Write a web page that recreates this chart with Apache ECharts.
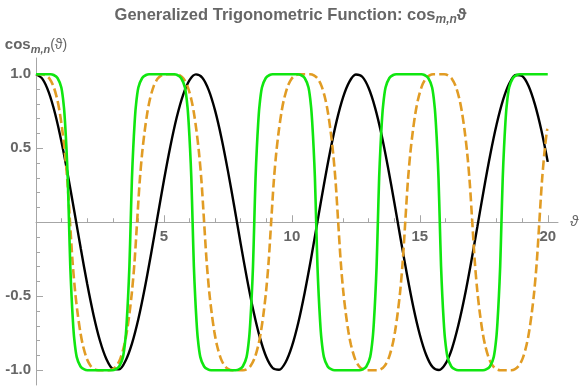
<!DOCTYPE html>
<html>

<head>
  <meta charset="utf-8" />
  <title></title>
  <script src="https://cdn.jsdelivr.net/npm/echarts@6/dist/echarts.min.js"></script>
  <style>
    html, body { margin: 0; padding: 0; background: #fff; }
  </style>
</head>

<body>
  <div id="chart" style="width: 581px;height:389px;"></div>
  <script type="text/javascript">
    // ordinary cos (black)
    var cosT = [0, 0.25, 0.5, 0.75, 1, 1.25, 1.5, 1.75, 2, 2.25, 2.5, 2.75, 3, 3.25, 3.5, 3.75,
      4, 4.25, 4.5, 4.75, 5, 5.25, 5.5, 5.75, 6, 6.25, 6.5, 6.75, 7, 7.25, 7.5, 7.75,
      8, 8.25, 8.5, 8.75, 9, 9.25, 9.5, 9.75, 10, 10.25, 10.5, 10.75, 11, 11.25, 11.5, 11.75,
      12, 12.25, 12.5, 12.75, 13, 13.25, 13.5, 13.75, 14, 14.25, 14.5, 14.75, 15, 15.25, 15.5, 15.75,
      16, 16.25, 16.5, 16.75, 17, 17.25, 17.5, 17.75, 18, 18.25, 18.5, 18.75, 19, 19.25, 19.5, 19.75, 20];
    var cosV = [1, 0.969, 0.878, 0.732, 0.540, 0.315, 0.071, -0.178, -0.416, -0.628, -0.801, -0.924, -0.990, -0.994, -0.936, -0.820,
      -0.654, -0.446, -0.211, 0.037, 0.284, 0.512, 0.709, 0.861, 0.960, 0.999, 0.977, 0.893, 0.754, 0.568, 0.347, 0.105,
      -0.146, -0.386, -0.602, -0.780, -0.911, -0.985, -0.997, -0.948, -0.839, -0.679, -0.476, -0.245, 0.004, 0.252, 0.483, 0.685,
      0.844, 0.950, 0.998, 0.983, 0.907, 0.775, 0.595, 0.377, 0.137, -0.113, -0.355, -0.576, -0.760, -0.897, -0.979, -0.999,
      -0.958, -0.857, -0.700, -0.504, -0.275, -0.029, 0.220, 0.454, 0.660, 0.825, 0.939, 0.995, 0.989, 0.921, 0.795, 0.622, 0.408];

    // orange dashed curve
    var orangeT = [0,
      0.23, 0.38, 0.53, 0.68, 0.83, 0.93, 1.03, 1.13, 1.23, 1.33, 1.43, 1.53, 1.63, 1.73, 1.83, 1.98, 2.13, 2.28, 2.43,
      2.85, 3.00, 3.15, 3.30, 3.45, 3.55, 3.65, 3.75, 3.85, 3.95, 4.05, 4.15, 4.25, 4.35, 4.45, 4.60, 4.75, 4.90, 5.05,
      5.47, 5.62, 5.77, 5.92, 6.07, 6.17, 6.27, 6.37, 6.47, 6.57, 6.67, 6.77, 6.87, 6.97, 7.07, 7.22, 7.37, 7.52, 7.67,
      8.09, 8.24, 8.39, 8.54, 8.69, 8.79, 8.89, 8.99, 9.09, 9.19, 9.29, 9.39, 9.49, 9.59, 9.69, 9.84, 9.99, 10.14, 10.29,
      10.71, 10.86, 11.01, 11.16, 11.31, 11.41, 11.51, 11.61, 11.71, 11.81, 11.91, 12.01, 12.11, 12.21, 12.31, 12.46, 12.61, 12.76, 12.91,
      13.33, 13.48, 13.63, 13.78, 13.93, 14.03, 14.13, 14.23, 14.33, 14.43, 14.53, 14.63, 14.73, 14.83, 14.93, 15.08, 15.23, 15.38, 15.53,
      15.95, 16.10, 16.25, 16.40, 16.55, 16.65, 16.75, 16.85, 16.95, 17.05, 17.15, 17.25, 17.35, 17.45, 17.55, 17.70, 17.85, 18.00, 18.15,
      18.57, 18.72, 18.87, 19.02, 19.17, 19.27, 19.37, 19.47, 19.57, 19.67, 19.77, 19.87, 19.97, 20];
    var orangeV = [1,
      1, 0.993, 0.97, 0.92, 0.83, 0.74, 0.62, 0.47, 0.27, 0, -0.27, -0.47, -0.62, -0.74, -0.83, -0.92, -0.97, -0.993, -1,
      -1, -0.993, -0.97, -0.92, -0.83, -0.74, -0.62, -0.47, -0.27, 0, 0.27, 0.47, 0.62, 0.74, 0.83, 0.92, 0.97, 0.993, 1,
      1, 0.993, 0.97, 0.92, 0.83, 0.74, 0.62, 0.47, 0.27, 0, -0.27, -0.47, -0.62, -0.74, -0.83, -0.92, -0.97, -0.993, -1,
      -1, -0.993, -0.97, -0.92, -0.83, -0.74, -0.62, -0.47, -0.27, 0, 0.27, 0.47, 0.62, 0.74, 0.83, 0.92, 0.97, 0.993, 1,
      1, 0.993, 0.97, 0.92, 0.83, 0.74, 0.62, 0.47, 0.27, 0, -0.27, -0.47, -0.62, -0.74, -0.83, -0.92, -0.97, -0.993, -1,
      -1, -0.993, -0.97, -0.92, -0.83, -0.74, -0.62, -0.47, -0.27, 0, 0.27, 0.47, 0.62, 0.74, 0.83, 0.92, 0.97, 0.993, 1,
      1, 0.993, 0.97, 0.92, 0.83, 0.74, 0.62, 0.47, 0.27, 0, -0.27, -0.47, -0.62, -0.74, -0.83, -0.92, -0.97, -0.993, -1,
      -1, -0.993, -0.97, -0.92, -0.83, -0.74, -0.62, -0.47, -0.27, 0, 0.27, 0.47, 0.62, 0.63];

    // green curve
    var greenT = [0,
      0.57, 0.69, 0.84, 0.99, 1.09, 1.14, 1.19, 1.24, 1.29, 1.34, 1.39, 1.44, 1.49, 1.59, 1.74, 1.89, 2.01,
      2.98, 3.10, 3.25, 3.40, 3.50, 3.55, 3.60, 3.65, 3.70, 3.75, 3.80, 3.85, 3.90, 4.00, 4.15, 4.30, 4.42,
      5.40, 5.52, 5.67, 5.82, 5.92, 5.97, 6.02, 6.07, 6.12, 6.17, 6.22, 6.27, 6.32, 6.42, 6.57, 6.72, 6.84,
      7.81, 7.93, 8.08, 8.23, 8.33, 8.38, 8.43, 8.48, 8.53, 8.58, 8.63, 8.68, 8.73, 8.83, 8.98, 9.13, 9.25,
      10.23, 10.35, 10.50, 10.65, 10.75, 10.80, 10.85, 10.90, 10.95, 11.00, 11.05, 11.10, 11.15, 11.25, 11.40, 11.55, 11.67,
      12.64, 12.76, 12.91, 13.06, 13.16, 13.21, 13.26, 13.31, 13.36, 13.41, 13.46, 13.51, 13.56, 13.66, 13.81, 13.96, 14.08,
      15.06, 15.18, 15.33, 15.48, 15.58, 15.63, 15.68, 15.73, 15.78, 15.83, 15.88, 15.93, 15.98, 16.08, 16.23, 16.38, 16.50,
      17.47, 17.59, 17.74, 17.89, 17.99, 18.04, 18.09, 18.14, 18.19, 18.24, 18.29, 18.34, 18.39, 18.49, 18.64, 18.79, 18.91,
      20];
    var greenV = [1,
      1, 0.995, 0.975, 0.91, 0.78, 0.66, 0.5, 0.3, 0, -0.3, -0.5, -0.66, -0.78, -0.91, -0.975, -0.995, -1,
      -1, -0.995, -0.975, -0.91, -0.78, -0.66, -0.5, -0.3, 0, 0.3, 0.5, 0.66, 0.78, 0.91, 0.975, 0.995, 1,
      1, 0.995, 0.975, 0.91, 0.78, 0.66, 0.5, 0.3, 0, -0.3, -0.5, -0.66, -0.78, -0.91, -0.975, -0.995, -1,
      -1, -0.995, -0.975, -0.91, -0.78, -0.66, -0.5, -0.3, 0, 0.3, 0.5, 0.66, 0.78, 0.91, 0.975, 0.995, 1,
      1, 0.995, 0.975, 0.91, 0.78, 0.66, 0.5, 0.3, 0, -0.3, -0.5, -0.66, -0.78, -0.91, -0.975, -0.995, -1,
      -1, -0.995, -0.975, -0.91, -0.78, -0.66, -0.5, -0.3, 0, 0.3, 0.5, 0.66, 0.78, 0.91, 0.975, 0.995, 1,
      1, 0.995, 0.975, 0.91, 0.78, 0.66, 0.5, 0.3, 0, -0.3, -0.5, -0.66, -0.78, -0.91, -0.975, -0.995, -1,
      -1, -0.995, -0.975, -0.91, -0.78, -0.66, -0.5, -0.3, 0, 0.3, 0.5, 0.66, 0.78, 0.91, 0.975, 0.995, 1,
      1];

    var xMajor = [5, 10, 15, 20];
    var xMinor = [1, 2, 3, 4, 6, 7, 8, 9, 11, 12, 13, 14, 16, 17, 18, 19];
    var yMajor = [-1, -0.5, 0.5, 1];
    var yMinor = [-0.9, -0.8, -0.7, -0.6, -0.4, -0.3, -0.2, -0.1, 0.1, 0.2, 0.3, 0.4, 0.6, 0.7, 0.8, 0.9];

    function pairs(t, v) {
      return t.map(function (x, i) { return [x, v[i]]; });
    }

    var font = "'Liberation Sans', Arial, sans-serif";
    var axisGray = '#a6a6a6';
    var textGray = '#666666';
    var yMin = -1.1, yMax = 1.11;
    // grid 327px tall; x axis sits where y = 0
    var zeroShift = -327 * (0 - yMin) / (yMax - yMin);

    var chart = echarts.init(document.getElementById('chart'));
    var option = {
      animation: false,
      title: {
        left: 'center',
        top: -1,
        text: '{t|Generalized Trigonometric Function: cos}{s|m,n}{t|ϑ}',
        textStyle: {
          rich: {
            t: { fontFamily: font, fontSize: 16.5, fontWeight: 'bold', color: textGray, lineHeight: 22, verticalAlign: 'middle' },
            s: { fontFamily: font, fontSize: 12, fontWeight: 'bold', fontStyle: 'italic', color: textGray, lineHeight: 12, verticalAlign: 'bottom' }
          }
        }
      },
      grid: { left: 36, right: 23, top: 58, bottom: 4, containLabel: false, outerBoundsMode: 'none' },
      xAxis: [{
        type: 'value', min: 0, max: 20.4, position: 'bottom', offset: zeroShift,
        name: 'ϑ', nameLocation: 'end', nameGap: 12,
        nameTextStyle: { fontFamily: font, fontSize: 15, fontStyle: 'italic', color: textGray },
        axisLine: { onZero: false, lineStyle: { color: axisGray, width: 1 } },
        axisTick: { inside: true, length: 7, customValues: xMajor, lineStyle: { color: axisGray } },
        axisLabel: { customValues: xMajor, margin: 7, fontFamily: font, fontSize: 15, fontWeight: 'bold', color: textGray },
        splitLine: { show: false }
      }, {
        type: 'value', min: 0, max: 20.4, position: 'bottom', offset: zeroShift,
        axisLine: { show: false, onZero: false },
        axisTick: { inside: true, length: 4, customValues: xMinor, lineStyle: { color: axisGray } },
        axisLabel: { show: false },
        splitLine: { show: false }
      }],
      yAxis: [{
        type: 'value', min: yMin, max: yMax, position: 'left',
        name: '{c|cos}{s|m,n}{p|(ϑ)}', nameLocation: 'end', nameGap: 3,
        nameTextStyle: {
          align: 'center',
          rich: {
            c: { fontFamily: font, fontSize: 15, fontWeight: 'bold', color: textGray, lineHeight: 20, verticalAlign: 'middle' },
            s: { fontFamily: font, fontSize: 11, fontWeight: 'bold', fontStyle: 'italic', color: textGray, lineHeight: 11, verticalAlign: 'bottom' },
            p: { fontFamily: font, fontSize: 14, color: textGray, lineHeight: 20, verticalAlign: 'middle' }
          }
        },
        axisLine: { onZero: false, lineStyle: { color: axisGray, width: 1 } },
        axisTick: { inside: true, length: 7, customValues: yMajor, lineStyle: { color: axisGray } },
        axisLabel: {
          customValues: yMajor, margin: 5, fontFamily: font, fontSize: 15, fontWeight: 'bold', color: textGray,
          formatter: function (v) { return v.toFixed(1); }
        },
        splitLine: { show: false }
      }, {
        type: 'value', min: yMin, max: yMax, position: 'left',
        axisLine: { show: false, onZero: false },
        axisTick: { inside: true, length: 4, customValues: yMinor, lineStyle: { color: axisGray } },
        axisLabel: { show: false },
        splitLine: { show: false }
      }],
      series: [
        {
          type: 'line', data: pairs(cosT, cosV), smooth: 0.3, showSymbol: false, clip: false,
          lineStyle: { color: '#000000', width: 2.4 }
        },
        {
          type: 'line', data: pairs(orangeT, orangeV), smooth: 0.3, showSymbol: false, clip: false,
          lineStyle: { color: '#e19c24', width: 2.6, type: [9, 4] }
        },
        {
          type: 'line', data: pairs(greenT, greenV), smooth: 0.3, showSymbol: false, clip: false,
          lineStyle: { color: '#10e610', width: 2.6 }
        }
      ]
    };
    chart.setOption(option);
  </script>
</body>

</html>
